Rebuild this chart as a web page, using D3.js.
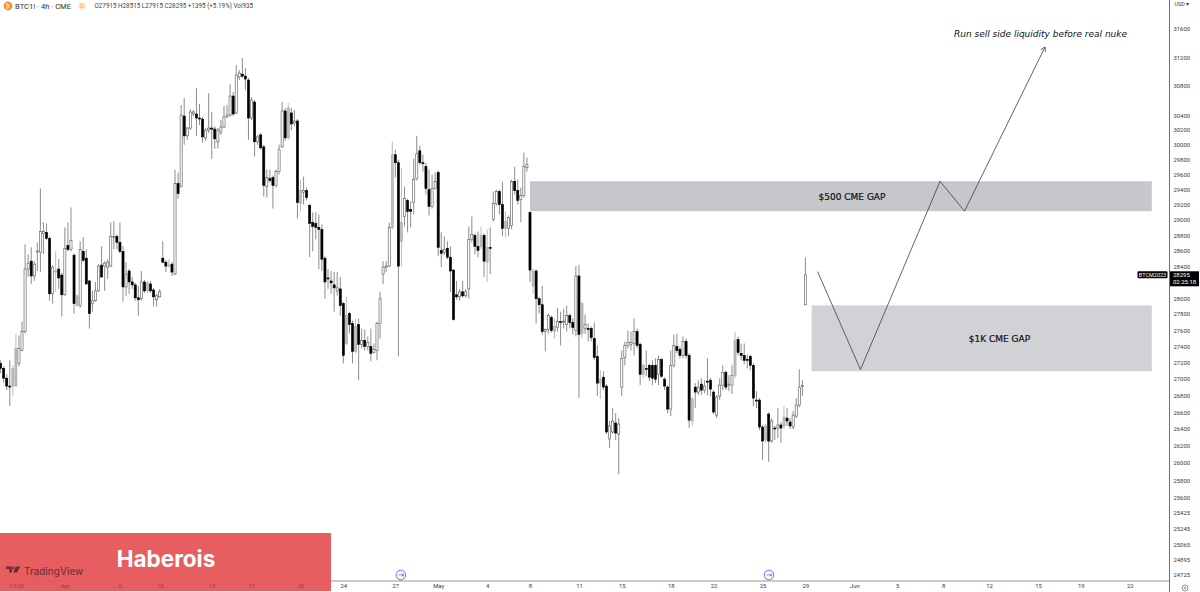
<!DOCTYPE html>
<html><head><meta charset="utf-8">
<script src="https://cdnjs.cloudflare.com/ajax/libs/d3/7.8.5/d3.min.js"></script>
<style>html,body{margin:0;padding:0;background:#fff;overflow:hidden}svg{display:block}</style>
</head><body><svg id="c" width="1200" height="592"></svg>
<script>
const opens=[
27191,27130,27010,26915,26915,26915,27191,27349,27582,28368,
28469,28280,28590,28583,28827,28840,28763,28054,28343,28368,
28292,28042,28672,28620,28545,27905,27905,28595,28507,28217,
27930,27967,28091,28418,28406,28393,28406,28776,28789,28712,
28595,28141,28343,28204,28167,28004,27992,28204,28091,28179,
28103,27980,28016,28507,28456,28418,28431,28305,29479,29440,
30388,30118,30224,30416,30416,30361,30347,30091,30197,30224,
30210,30038,30170,30238,30375,30402,30662,30429,30925,30966,
30938,30883,30361,30580,30038,30131,29970,29440,29545,29558,
29453,29638,29970,30457,30091,30430,30293,30320,29216,29360,
29387,29190,28969,28956,28904,28878,28507,28255,28217,28167,
28091,28116,27930,27435,27806,27682,27337,27670,27423,27472,
27398,27398,27325,27349,27682,28305,28400,28406,28904,29864,
29757,28724,29047,29255,29138,29228,29545,29917,29757,29704,
29400,29177,29413,29624,28607,28583,28633,28520,28355,28042,
28016,28079,28029,28116,28750,28801,28659,28659,28801,28456,
28646,29008,29216,29373,29203,28891,28891,28930,29505,29387,
29268,29320,29690,29100,28154,28343,27992,27917,27582,27608,
27756,27582,27632,27706,27706,27670,27781,27694,27595,28280,
27558,27620,27620,27620,27496,27276,26950,27022,26914,26282,
26365,26471,26341,26902,27264,27410,27423,27435,27582,27423,
27058,27130,27167,27167,27167,27058,27240,26998,26902,26638,
27167,27398,27362,27288,27460,27288,26495,26902,26842,26938,
26866,26974,26986,26842,26566,26794,26926,27082,26926,26926,
27046,27484,27313,27288,27240,27276,27167,26746,26746,26424,
26270,26578,26258,26412,26412,26448,26436,26530,26483,26424,
26554,26686,26914,27915];
const highs=[
27228,27155,27058,27228,27167,27558,27533,27706,28685,28557,
28646,28469,28712,29413,28969,28956,28789,28418,28595,28494,
28317,28904,28969,29164,28570,28042,28724,28776,28620,28229,
28091,28204,28431,28659,28469,28494,28969,28982,28814,28969,
28659,28456,28368,28267,28192,28154,28343,28229,28217,28217,
28129,28054,28116,28724,28481,28494,28456,29664,29624,30538,
30634,30238,30484,30470,30772,30552,30375,30224,30703,30443,
30251,30224,30334,30525,30538,30827,30717,31092,31022,31190,
31050,30911,30648,30607,30131,30157,29998,29664,29664,29585,
29664,30000,30580,30498,30566,30498,30470,30347,29532,29572,
29426,29216,29100,29100,29073,28943,28532,28368,28343,28330,
28330,28267,27955,28016,27830,27719,27744,27744,27620,27608,
27521,27620,27435,27706,28079,28469,28469,28969,30038,29930,
29797,29690,29440,29281,29242,29810,30118,29984,29864,29757,
29664,29598,29624,29651,28840,28789,28724,28659,28368,28217,
28116,28217,28116,28917,29047,28827,28852,28917,28827,28878,
28904,29373,29400,29400,29505,29112,29060,29532,29704,29532,
29426,29890,29824,29112,28368,28368,28016,28154,27620,27806,
27781,27744,27880,27830,27868,27905,27806,27744,28406,28418,
27955,27793,27682,27645,27694,27410,27106,27094,26938,26495,
26650,26590,26530,27349,27460,27595,27582,27744,27620,27447,
27191,27349,27191,27228,27252,27288,27252,27022,26926,27349,
27545,27558,27398,27521,27496,27313,26782,26950,26986,27010,
26986,27252,27010,26866,26806,27010,27167,27106,27046,27167,
27582,27521,27435,27435,27300,27300,27191,26854,26770,26448,
26459,26602,26530,26436,26650,26483,26674,26650,26530,26614,
26770,27118,26986,28515];
const lows=[
27070,26950,26866,26674,26794,26905,27155,27337,27558,28267,
28179,28217,28343,28330,28560,28737,27967,27930,28079,28116,
27769,28030,28595,28595,27806,27893,27880,28456,28167,27620,
27830,27955,28079,28255,28091,28242,28393,28620,28620,28570,
27955,28029,28054,28116,27967,27781,27967,28066,28066,28066,
27893,27893,28004,28443,28330,28393,28280,28292,29281,29426,
29998,30065,30197,30388,30118,30265,30025,30051,30157,29810,
29944,29944,30131,30224,30361,30375,30388,30416,30883,30911,
30744,30065,30334,29837,29998,29930,29307,29294,29492,29151,
29426,29600,29957,30051,30065,30197,30250,29020,29112,29203,
29255,28520,28595,28750,28368,28343,27992,28116,28054,27830,
28029,27781,27191,27410,27558,27191,27313,26986,27374,27349,
27349,27215,27313,27228,27496,28179,28330,28393,28878,29558,
27276,28406,28917,28839,28904,29073,29519,29730,29638,29334,
29060,29151,29400,28532,28393,28545,28494,28079,27719,27980,
27967,28004,28004,27992,28712,28557,28520,28620,28267,28204,
28305,28982,29190,29073,28789,28776,28789,28878,29334,29203,
28969,29294,29638,28204,28054,27682,27806,27545,27337,27558,
27570,27496,27582,27410,27620,27582,27620,27545,27521,26770,
27496,27558,27460,27460,27228,26794,26758,26866,26341,26176,
26341,26270,25870,26794,27167,27374,27349,27288,27374,26926,
27010,27034,26974,26926,26950,26926,27010,26866,26590,26554,
27142,27313,27252,27252,27252,26412,26436,26650,26806,26806,
26830,26806,26794,26578,26530,26746,26866,26866,26854,26818,
27010,27288,27228,27179,27130,27106,26674,26650,26388,26037,
26235,26013,26235,26270,26294,26235,26400,26436,26400,26400,
26530,26662,26794,27915];
const closes=[
27130,27010,26915,26905,27130,27374,27374,27582,28368,28443,
28280,28431,28600,28852,28852,28763,28054,28393,28330,28255,
28042,28633,28620,28737,27930,28029,28620,28481,28179,27806,
27967,28091,28406,28267,28443,28456,28789,28789,28712,28595,
28141,28305,28204,28167,28004,27980,28204,28091,28192,28091,
28016,28029,28079,28456,28406,28406,28330,29479,29347,30402,
30118,30224,30443,30443,30361,30350,30104,30197,30224,30210,
30078,30197,30238,30375,30402,30662,30416,30952,30980,30938,
30897,30361,30607,30038,30104,29957,29453,29558,29519,29453,
29638,29930,30457,30091,30498,30280,30320,29228,29387,29387,
29294,28956,28917,28904,28878,28494,28204,28242,28192,28129,
28129,27905,27288,27781,27670,27337,27645,27423,27472,27398,
27447,27313,27362,27682,27992,28393,28406,28904,29864,29757,
28406,28969,29281,29112,29112,29532,29877,29757,29745,29413,
29177,29413,29505,28646,28570,28620,28520,28343,27731,28016,
28079,28029,28079,28750,28815,28659,28607,28801,28469,28646,
28640,29216,29373,29203,28891,28982,29034,29505,29387,29255,
29320,29704,29730,28355,28343,27992,27917,27582,27608,27781,
27595,27645,27706,27700,27712,27781,27694,27632,28280,27545,
27930,27670,27615,27508,27264,26950,26998,26902,26365,26436,
26495,26353,26459,27252,27410,27447,27447,27582,27410,27058,
27167,27120,27022,27010,26998,27240,27034,26914,26638,27167,
27410,27349,27288,27460,27288,26506,26758,26842,26902,26866,
26914,26968,26878,26602,26782,26926,27082,26902,26938,27046,
27472,27325,27288,27228,27234,27167,26770,26740,26424,26258,
26436,26258,26495,26406,26448,26412,26542,26495,26436,26566,
26686,26902,26920,28295];
const shadedBars=[4,5,18,25,48,55,94,98,113,116,128,131,157,159,165,174,181,190,196,210,226,240,250,256];
const priceTicks=[31600,31200,30800,30400,30200,30000,29800,29600,29400,29200,29000,28800,28600,28400,28000,27800,27600,27400,27200,27000,26800,26600,26400,26200,26000,25800,25600,25425,25245,25065,24895,24725];
const timeBars=[5,21,39,52,69,82,98,112,129,143,159,173,189,203,219,233,249,263,279,293,308,323,339,353,369];
const timeLabels=["13:00","Apr","6","10","13","17","20","24","27","May","4","8","11","15","18","22","25","29","Jun","5","8","12","15","19","22"];
const gapNames=["$500 CME GAP","$1K CME GAP"];
const gapTop=[29510,27909];
const gapBottom=[29116,27095];
const gapStart=[173,265.05];
const gapEnd=[376.2,376.2];
const pathBars=[267,281,307,315,341.3];
const pathPrices=[28335,27115,29510,29116,31345];
const sessionBars=[11.5,130.8,251.1];

const svg=d3.select("#c");
const x=d3.scaleLinear().domain([0,263]).range([0.6,805.4]);
const y=d3.scaleLog().domain([31600,26000]).range([29,463]);
const TXT="#3a3a3a";

// gaps
const gaps=svg.append("g");
gapNames.forEach((n,i)=>{
  gaps.append("rect").attr("x",x(gapStart[i])).attr("width",x(gapEnd[i])-x(gapStart[i]))
    .attr("y",y(gapTop[i])).attr("height",y(gapBottom[i])-y(gapTop[i]))
    .attr("fill",i?"#d1d2d6":"#c6c7cc");
  gaps.append("text").attr("x",i?999.5:852).attr("y",(y(gapTop[i])+y(gapBottom[i]))/2+0.4)
    .attr("dy",".35em").attr("text-anchor","middle").attr("font-family","DejaVu Sans").attr("font-size",9)
    .attr("fill","#111").attr("stroke","#111").attr("stroke-width",0.2).text(n);
});

// candles
const bars=d3.range(opens.length);
const shaded=new Set(shadedBars);
const g=svg.append("g");
g.selectAll("line").data(bars).join("line")
  .attr("x1",i=>x(i)).attr("x2",i=>x(i)).attr("y1",i=>y(highs[i])).attr("y2",i=>y(lows[i]))
  .attr("stroke",i=>shaded.has(i)?"#aaa":"#6e6e6e").attr("stroke-width",0.8);
g.selectAll("rect").data(bars).join("rect")
  .attr("x",i=>x(i)-1.05).attr("width",2.1)
  .attr("y",i=>y(Math.max(opens[i],closes[i])))
  .attr("height",i=>Math.max(1,Math.abs(y(opens[i])-y(closes[i]))))
  .attr("fill",i=>shaded.has(i)?"#bdbdbd":closes[i]>=opens[i]?"#fff":"#000")
  .attr("stroke",i=>shaded.has(i)?"#a8a8a8":closes[i]>=opens[i]?"#555":"#000")
  .attr("stroke-width",0.6);

// projection path
const line=d3.line().x(d=>x(d[0])).y(d=>y(d[1]));
const pts=pathBars.map((b,i)=>[b,pathPrices[i]]);
svg.append("path").attr("d",line(pts)).attr("fill","none").attr("stroke","#3d3d3d").attr("stroke-width",0.8);
const ex=x(pathBars[4]),ey=y(pathPrices[4]),px=x(pathBars[3]),py=y(pathPrices[3]);
const ang=Math.atan2(ey-py,ex-px);
[-2.6,2.6].forEach(a=>svg.append("line").attr("x1",ex).attr("y1",ey)
  .attr("x2",ex+5*Math.cos(ang+a)).attr("y2",ey+5*Math.sin(ang+a)).attr("stroke","#3d3d3d").attr("stroke-width",0.8));
svg.append("text").attr("x",954).attr("y",36.5).attr("font-family","DejaVu Sans").attr("font-style","italic")
  .attr("font-size",9).attr("fill","#111").text("Run sell side liquidity before real nuke");

// axes frame
svg.append("line").attr("x1",0).attr("x2",1169.5).attr("y1",581).attr("y2",581).attr("stroke","#b9b9b9").attr("stroke-width",1.4);
svg.append("line").attr("x1",1169.5).attr("x2",1169.5).attr("y1",0).attr("y2",592).attr("stroke","#6f6f6f").attr("stroke-width",1);

const yAxis=d3.axisRight(y).tickValues(priceTicks).tickSize(0).tickPadding(3.5).tickFormat(d3.format("d"));
const ya=svg.append("g").attr("transform","translate(1170,0)").call(yAxis);
ya.select(".domain").remove();
ya.selectAll("text").attr("font-family","Roboto").attr("font-size",5.9).attr("fill",TXT);

// session break icons
sessionBars.forEach((b,i)=>{
  const gi=svg.append("g").attr("transform",`translate(${x(b)},575)`);
  const col=i==0?"#b94a50":"#7a52d8";
  gi.append("circle").attr("r",4.8).attr("fill","#fff").attr("fill-opacity",i==0?0:1).attr("stroke",col).attr("stroke-width",0.9);
  gi.append("path").attr("d","M-2.6,0H2M0.6,-1.5L2.2,0L0.6,1.5M2.6,-1.6V1.6").attr("fill","none").attr("stroke",col).attr("stroke-width",0.7);
});

// time axis
const xAxis=d3.axisBottom(x).tickValues(timeBars).tickSize(0).tickPadding(3)
  .tickFormat((d,i)=>timeLabels[i]);
// watermark panel
svg.append("rect").attr("x",0).attr("y",533).attr("width",331).attr("height",58).attr("fill","#e5575a").attr("fill-opacity",0.96);
const xa=svg.append("g").attr("transform","translate(0,581)").call(xAxis);
xa.select(".domain").remove();
xa.selectAll("text").attr("font-family","Roboto").attr("font-size",5.9)
  .attr("fill",(d,i)=>x(d)<331?"#a83d42":TXT);

svg.append("text").attr("x",166).attr("y",566.5).attr("text-anchor","middle").attr("font-family","Inter").attr("font-weight",700)
  .attr("font-size",22.5).attr("fill","#fff").text("Haberois");

// TradingView logo (tinted)
svg.append("path").attr("d","M6,566.5h6v6h-2.6v-3.6H6zM15.5,566.5h4.6l-3,6h-3.8zM12.6,566.5a1.3,1.3 0 1 0 0.01,0")
  .attr("fill","#6e2a30");
svg.append("text").attr("x",24).attr("y",574.5).attr("font-family","Inter").attr("font-weight",500).attr("font-size",9.9)
  .attr("fill","#7c3237").text("TradingView");

// header
svg.append("circle").attr("cx",8).attr("cy",6).attr("r",4.4).attr("fill","#f7931a");
svg.append("text").attr("x",8).attr("y",8).attr("text-anchor","middle").attr("font-size",5.5).attr("font-family","DejaVu Sans").attr("fill","#fff").text("₿");
svg.append("text").attr("x",15).attr("y",8.5).attr("font-family","Roboto").attr("font-size",7.6).attr("fill","#333").text("BTC1! · 4h · CME");
svg.append("circle").attr("cx",82).attr("cy",6).attr("r",4).attr("fill","#fde8d4");
svg.append("text").attr("x",82).attr("y",8).attr("text-anchor","middle").attr("font-size",5.5).attr("font-family","Roboto").attr("fill","#f09a4a").text("D");
svg.append("text").attr("x",94.5).attr("y",8.2).attr("font-family","Roboto").attr("font-size",6.3).attr("fill","#444")
  .text("O27915 H28515 L27915 C28295 +1395 (+5.19%) Vol935");
svg.append("text").attr("x",1174.5).attr("y",6).attr("font-family","Roboto").attr("font-size",5.5).attr("fill",TXT).text("USD ▾");

// last price tags
const lastY=y(closes[closes.length-1]);
svg.append("rect").attr("x",1137.5).attr("y",lastY-3.5).attr("width",30).attr("height",7).attr("rx",1).attr("fill","#000");
svg.append("text").attr("x",1152.5).attr("y",lastY+2).attr("text-anchor","middle").attr("font-family","Roboto").attr("font-size",5.5).attr("fill","#fff").text("BTCM2023");
svg.append("rect").attr("x",1170).attr("y",lastY-3.5).attr("width",29).attr("height",15).attr("fill","#000");
svg.append("text").attr("x",1173).attr("y",lastY+2.4).attr("font-family","Roboto").attr("font-size",6).attr("fill","#fff").text(closes[closes.length-1]);
svg.append("text").attr("x",1173).attr("y",lastY+9.2).attr("font-family","Roboto").attr("font-size",6).attr("fill","#fff").text("02:25:18");

// settings icon
svg.append("circle").attr("cx",1185).attr("cy",588).attr("r",3).attr("fill","none").attr("stroke","#666").attr("stroke-width",0.7);
svg.append("circle").attr("cx",1185).attr("cy",588).attr("r",1).attr("fill","none").attr("stroke","#666").attr("stroke-width",0.6);
</script></body></html>
